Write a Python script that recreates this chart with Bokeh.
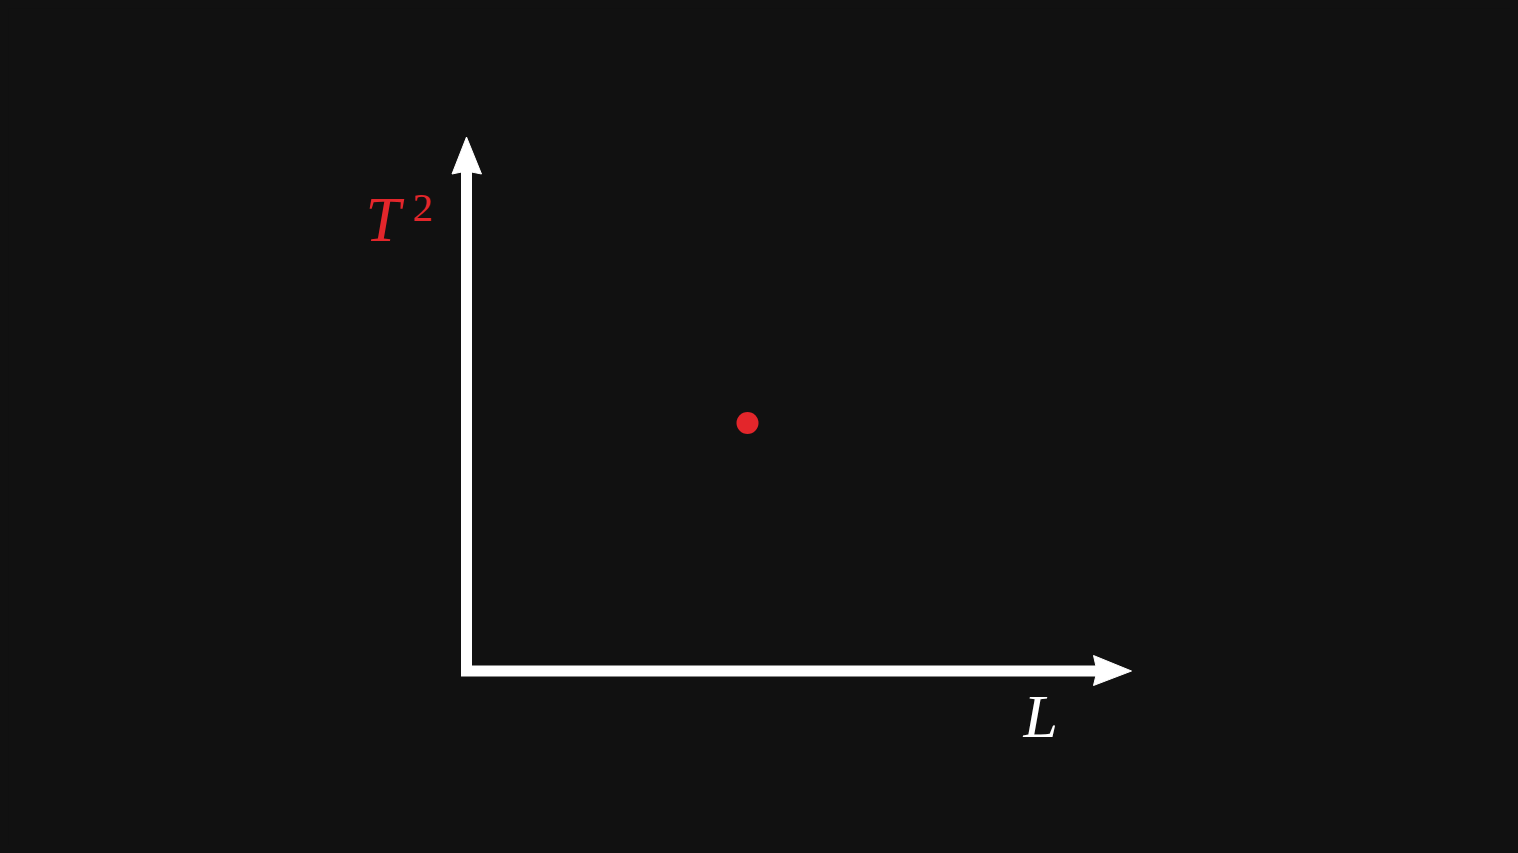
from bokeh.plotting import figure
from bokeh.models import Range1d
from bokeh.core.properties import value
from bokeh.embed import file_html
from bokeh.resources import INLINE

# --- data (origin of the axes at 0,0) ---
point_L = [281]
point_T2 = [248]
axis_x_end = 665     # tip of horizontal arrow
axis_y_end = 534     # tip of vertical arrow
x_label = "L"
y_label = "T"
y_label_sup = "2"

BG = "#111111"
RED = "#e3262b"
WHITE = "#ffffff"

W, H = 1502, 837
p = figure(width=W, height=H, output_backend="svg", toolbar_location=None,
           x_range=Range1d(-458, -458 + W), y_range=Range1d(662.5 - H, 662.5),
           min_border=0, background_fill_color=BG, border_fill_color=BG,
           outline_line_color=None)
p.axis.visible = False
p.grid.visible = False

# shafts
vx_notch = axis_y_end - 34
hx_notch = axis_x_end - 34.5
p.line([0, 0, hx_notch + 2], [vx_notch + 2, 0, 0], line_color=WHITE, line_width=11,
       line_join="miter", line_cap="butt")

# arrow heads
p.patch([0, -14.5, 0, 15], [axis_y_end, axis_y_end - 37, vx_notch, axis_y_end - 37],
        fill_color=WHITE, line_color=WHITE, line_width=1)
p.patch([axis_x_end, axis_x_end - 38, hx_notch, axis_x_end - 38], [0, 15.5, 0, -14.5],
        fill_color=WHITE, line_color=WHITE, line_width=1)

# data point
p.scatter(point_L, point_T2, size=22, marker="circle", fill_color=RED, line_color=None)

# labels
p.text([-101], [451], text=[y_label], text_font=value("Liberation Serif"),
       text_font_style="italic", text_font_size="63px", text_color=RED,
       text_baseline="alphabetic", text_align="left")
p.text([-54], [463], text=[y_label_sup], text_font=value("Liberation Serif"),
       text_font_size="41px", text_color=RED,
       text_baseline="alphabetic", text_align="left")
p.text([557], [-45], text=[x_label], text_font=value("Liberation Serif"),
       text_font_style="italic", text_font_size="62px", text_color=WHITE,
       text_baseline="alphabetic", text_align="left")

html = file_html(p, INLINE)
html = html.replace("<head>", "<head><style>html{background:#111111 !important}body{background:#111111 !important;margin:8px !important;padding:0 !important}</style>", 1)
open("out.html", "w").write(html)
